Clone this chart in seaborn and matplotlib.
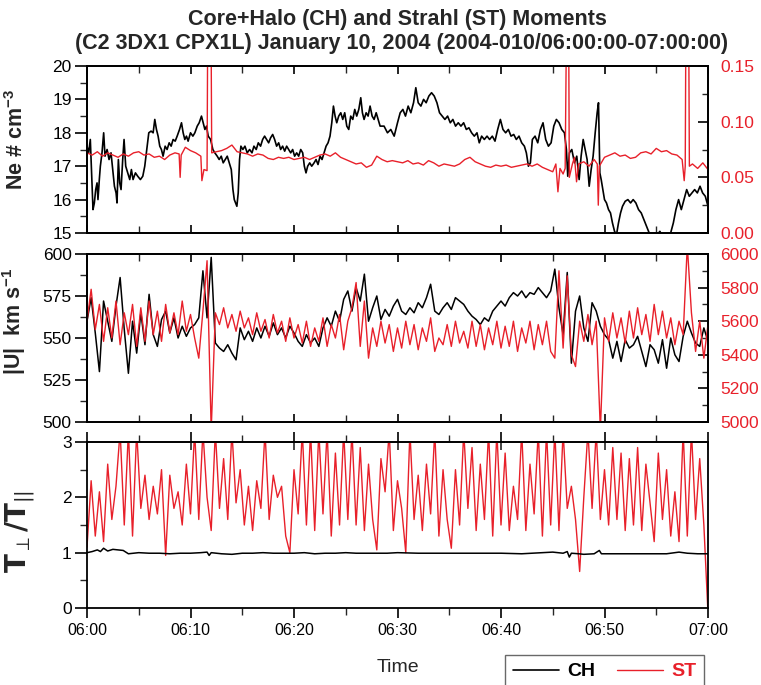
import numpy as np
import pandas as pd
import matplotlib
matplotlib.use("Agg")
import matplotlib.pyplot as plt
from matplotlib.ticker import MultipleLocator, FixedLocator, FixedFormatter, FormatStrFormatter
from matplotlib.lines import Line2D
import seaborn as sns

# ---------------- data (minutes after 06:00) ----------------
ne_ch_t = [0.0,0.16,0.32,0.48,0.58,0.71,0.84,0.97,1.06,1.19,1.29,1.45,1.61,1.74,1.94,2.13,2.32,2.52,2.65,2.81,2.90,3.03,3.16,3.29,3.45,3.58,3.74,3.94,4.13,4.29,4.45,4.68,4.90,5.16,5.39,5.58,5.81,5.97,6.19,6.39,6.55,6.71,6.87,7.03,7.19,7.35,7.55,7.74,7.94,8.13,8.32,8.52,8.71,8.94,9.13,9.29,9.45,9.61,9.77,10.0,10.23,10.42,10.65,10.84,11.06,11.23,11.39,11.55,11.71,11.94,12.16,12.35,12.58,12.77,12.97,13.16,13.35,13.55,13.74,13.94,14.1,14.23,14.35,14.48,14.61,14.74,14.87,15.06,15.26,15.48,15.71,15.94,16.13,16.35,16.55,16.77,16.97,17.16,17.35,17.55,17.74,17.94,18.13,18.32,18.52,18.71,18.9,19.1,19.29,19.48,19.68,19.87,20.06,20.26,20.45,20.65,20.84,21.0,21.16,21.32,21.52,21.71,21.94,22.13,22.32,22.52,22.71,22.9,23.1,23.29,23.48,23.65,23.81,23.97,24.13,24.32,24.52,24.71,24.9,25.1,25.29,25.48,25.68,25.87,26.06,26.26,26.45,26.61,26.77,26.97,27.16,27.35,27.55,27.74,27.94,28.13,28.32,28.7,29.03,29.35,29.68,30.0,30.26,30.52,30.77,31.03,31.29,31.55,31.77,32.0,32.26,32.52,32.77,33.03,33.29,33.55,33.81,34.06,34.32,34.58,34.84,35.1,35.35,35.61,35.87,36.13,36.39,36.65,36.9,37.16,37.42,37.68,37.9,38.13,38.39,38.65,38.9,39.16,39.42,39.68,39.94,40.19,40.45,40.71,40.97,41.23,41.48,41.74,42.0,42.26,42.45,42.65,42.84,43.03,43.29,43.55,43.81,44.06,44.32,44.58,44.84,45.1,45.35,45.61,45.87,46.13,46.32,46.45,46.61,46.84,47.1,47.32,47.55,47.74,47.94,48.13,48.32,48.52,48.71,48.9,49.1,49.29,49.42,49.55,49.68,49.84,50.0,50.19,50.39,50.58,50.77,50.97,51.16,51.35,51.55,51.74,52.0,52.26,52.52,52.77,53.03,53.29,53.55,53.81,54.06,54.32,54.58,54.84,55.1,55.35,55.61,55.87,56.13,56.39,56.65,56.9,57.16,57.42,57.68,57.94,58.19,58.45,58.71,58.97,59.23,59.48,59.74,60.0]
ne_ch = [17.6,17.4,17.8,16.5,15.7,15.9,16.3,16.5,16.0,16.6,17.0,17.4,18.0,17.3,17.5,17.2,17.4,16.8,16.4,16.2,15.9,17.2,16.5,16.3,17.2,17.8,17.0,16.8,16.6,16.9,16.6,16.8,16.7,16.6,16.7,17.0,17.6,18.0,18.05,18.0,18.4,18.1,17.9,17.6,17.5,17.3,17.6,17.5,17.7,17.6,17.8,17.75,17.9,18.1,18.3,18.0,17.8,17.9,17.75,18.0,17.9,18.0,18.2,18.3,18.5,18.3,18.1,18.2,17.9,17.8,17.5,17.4,17.3,17.2,17.3,17.1,17.2,17.3,17.1,16.9,16.3,16.0,15.9,15.8,16.2,17.2,17.6,17.5,17.6,17.4,17.5,17.4,17.6,17.5,17.7,17.6,17.8,17.9,17.8,17.7,17.85,17.95,17.8,17.6,17.7,17.5,17.6,17.45,17.6,17.5,17.4,17.5,17.3,17.4,17.3,17.5,17.4,17.0,16.8,17.0,17.1,17.0,17.1,17.2,17.05,17.3,17.2,17.4,17.6,17.7,17.9,18.3,18.8,18.5,18.3,18.5,18.6,18.4,18.6,18.2,18.1,18.5,18.4,18.7,18.5,18.7,19.05,18.6,18.4,18.6,18.5,18.8,18.5,18.4,18.6,18.4,18.2,18.2,18.0,18.1,17.9,18.3,18.6,18.7,18.5,18.8,18.6,18.9,19.35,18.9,18.8,19.0,18.9,19.1,19.2,19.1,18.9,18.6,18.5,18.4,18.5,18.3,18.4,18.2,18.3,18.2,18.3,18.1,18.15,18.0,17.9,18.0,17.7,17.9,17.8,17.9,17.8,17.9,17.75,18.1,18.4,18.1,18.0,18.1,17.9,17.95,17.8,17.9,17.7,17.6,17.4,17.0,17.1,17.8,17.9,17.7,18.1,18.3,17.8,17.6,17.7,18.2,18.4,18.3,18.1,18.0,17.5,16.7,17.4,17.5,17.1,17.3,16.6,17.3,17.8,17.5,17.2,16.4,16.9,17.3,18.0,18.6,18.9,16.8,16.6,16.3,16.0,15.9,15.7,15.6,15.3,15.05,14.95,15.3,15.6,15.8,15.95,16.0,15.9,16.0,15.9,15.7,15.6,15.4,15.2,15.0,14.95,15.0,14.95,15.05,14.9,14.95,14.9,15.0,15.3,15.7,16.0,15.7,16.0,16.3,16.1,16.2,16.3,16.2,16.4,16.2,16.1,15.8]

ne_st_t = [0.0,0.5,1.0,1.5,2.0,2.5,3.0,3.5,4.0,4.5,5.0,5.5,6.0,6.5,7.0,7.5,8.0,8.5,8.9,9.0,9.1,9.5,10.0,10.5,11.0,11.1,11.3,11.6,11.65,12.0,12.05,12.5,13.0,13.5,14.0,14.5,15.0,15.5,16.0,16.5,17.0,17.5,18.0,18.5,19.0,19.5,20.0,20.5,21.0,21.5,22.0,22.5,23.0,23.5,24.0,24.5,25.0,25.5,26.0,26.5,27.0,27.5,28.0,28.5,29.0,29.5,30.0,30.5,31.0,31.5,32.0,32.5,33.0,33.5,34.0,34.5,35.0,35.5,36.0,36.5,37.0,37.5,38.0,38.5,39.0,39.5,40.0,40.5,41.0,41.5,42.0,42.5,43.0,43.5,44.0,44.5,45.0,45.3,45.5,45.7,46.0,46.2,46.3,46.55,46.6,46.9,47.1,47.3,47.5,48.0,48.5,49.0,49.3,49.4,49.5,50.0,50.5,51.0,51.5,52.0,52.5,53.0,53.5,54.0,54.5,55.0,55.5,56.0,56.5,57.0,57.5,57.7,57.8,57.85,58.15,58.2,58.5,59.0,59.5,60.0]
ne_st = [0.072,0.070,0.073,0.069,0.072,0.070,0.068,0.071,0.069,0.072,0.073,0.070,0.071,0.068,0.069,0.066,0.070,0.072,0.071,0.050,0.070,0.077,0.074,0.072,0.069,0.047,0.057,0.056,0.16,0.16,0.072,0.073,0.074,0.076,0.079,0.073,0.072,0.071,0.069,0.071,0.070,0.067,0.066,0.068,0.067,0.068,0.066,0.067,0.068,0.066,0.068,0.070,0.071,0.069,0.072,0.068,0.066,0.064,0.062,0.063,0.059,0.061,0.069,0.066,0.064,0.065,0.064,0.063,0.065,0.062,0.063,0.061,0.065,0.063,0.060,0.062,0.061,0.060,0.062,0.066,0.068,0.064,0.062,0.060,0.059,0.061,0.060,0.061,0.059,0.060,0.061,0.062,0.060,0.062,0.059,0.057,0.055,0.062,0.037,0.058,0.053,0.058,0.16,0.16,0.050,0.062,0.068,0.046,0.062,0.064,0.060,0.066,0.062,0.025,0.060,0.068,0.070,0.072,0.069,0.070,0.067,0.068,0.072,0.073,0.071,0.076,0.073,0.074,0.071,0.070,0.066,0.047,0.060,0.16,0.16,0.060,0.062,0.058,0.063,0.057]

grid_step = 0.4  # minutes between samples for |U| and T ratio
u_ch = [560,574,553,530,572,560,548,569,586,555,529,560,541,565,546,576,552,545,561,566,553,562,550,557,551,556,558,562,590,562,598,547,544,542,546,541,537,556,549,554,548,556,550,557,551,559,552,556,550,557,553,548,545,552,547,550,545,556,562,557,566,560,573,578,566,580,572,588,560,568,575,561,567,563,569,573,566,564,568,565,571,568,574,582,566,564,568,571,567,574,572,570,566,563,561,558,562,560,566,569,572,569,574,577,575,578,574,577,576,580,577,574,578,591,568,552,589,535,566,575,556,548,571,566,557,552,549,538,548,536,549,544,546,551,542,533,546,543,535,549,532,550,540,536,551,560,553,547,545,556,548]
u_st = [5600,5790,5550,5700,5480,5680,5500,5720,5460,5650,5520,5700,5450,5680,5480,5720,5520,5660,5480,5700,5530,5650,5520,5720,5540,5640,5500,5380,5660,5960,4950,5650,5580,5680,5560,5640,5540,5660,5560,5620,5520,5650,5540,5610,5500,5640,5530,5600,5480,5620,5500,5580,5470,5600,5450,5560,5480,5620,5450,5580,5500,5640,5430,5600,5680,5830,5450,5720,5380,5560,5450,5600,5470,5580,5420,5560,5440,5600,5460,5580,5430,5560,5480,5620,5420,5500,5460,5580,5450,5600,5470,5540,5440,5600,5450,5580,5430,5560,5460,5600,5440,5570,5450,5600,5420,5560,5470,5600,5430,5580,5460,5600,5420,5380,5900,5440,5870,5400,5330,5600,5480,5640,5460,5600,4950,5620,5480,5650,5500,5620,5470,5660,5500,5680,5520,5640,5480,5700,5520,5660,5500,5620,5460,5600,5520,6050,5650,5420,5600,5380,5580]

tr_ch_t = [0,0.5,1.0,1.3,1.6,2.0,2.5,3.0,3.5,4.0,5,6,7,8,9,10,11,11.6,11.8,12.0,13,14,15,16,17,18,19,20,21,22,23,24,25,26,27,28,29,30,32,34,36,38,40,42,44,45,46,46.4,46.6,46.8,47.5,48,49,49.5,49.7,50,52,54,56,57.2,58,59,60]
tr_ch = [1.00,1.02,1.05,1.02,1.08,1.03,1.06,1.05,1.04,0.98,1.00,0.99,0.99,0.98,0.99,0.99,1.00,1.01,0.95,1.00,0.98,0.97,0.99,0.99,1.00,0.99,0.99,0.99,1.00,0.98,0.99,0.99,1.00,0.99,0.99,0.99,0.99,1.00,0.99,0.99,0.99,0.99,0.99,0.98,1.00,1.01,0.99,1.02,0.92,0.99,0.98,0.97,0.98,1.04,0.98,0.98,0.98,0.98,0.98,1.01,0.99,0.98,0.98]
tr_st = [1.10,2.30,1.30,2.10,1.20,2.60,1.60,2.20,3.20,1.50,3.20,1.30,3.20,1.80,2.40,1.60,2.20,1.70,2.50,0.95,2.40,1.80,2.10,1.50,2.60,1.70,3.20,1.60,3.20,2.00,1.40,3.20,1.80,2.70,1.60,3.20,1.90,2.50,1.50,2.20,1.40,2.30,1.80,3.20,1.60,2.40,2.00,2.20,1.30,1.00,2.50,1.70,3.20,1.50,3.20,1.40,3.20,1.70,3.20,1.30,2.80,1.50,3.20,1.60,3.20,1.50,2.90,1.40,2.60,1.60,1.05,2.70,2.10,3.20,1.40,2.30,1.80,1.00,3.20,1.60,2.40,1.40,2.60,1.70,3.20,1.30,2.50,1.60,1.08,2.50,1.50,3.20,1.80,2.90,1.40,2.60,1.60,3.20,1.30,3.20,1.50,2.80,1.40,2.20,1.60,3.20,1.40,2.60,1.70,3.20,1.30,3.20,1.50,3.20,1.40,3.20,1.80,2.20,1.60,0.66,2.00,3.20,1.80,3.20,1.60,2.50,1.50,2.90,1.60,2.80,1.40,2.70,1.50,2.90,1.40,2.60,1.90,1.20,2.80,1.60,2.50,1.30,2.10,1.20,3.20,1.30,3.20,1.60,2.70,1.50,-0.10]

xtick_minutes = [0, 10, 20, 30, 40, 50, 60]
xtick_labels = ["06:00", "06:10", "06:20", "06:30", "06:40", "06:50", "07:00"]

title_lines = ["Core+Halo (CH) and Strahl (ST) Moments",
               "(C2 3DX1 CPX1L) January 10, 2004 (2004-010/06:00:00-07:00:00)"]

# ---------------- styling ----------------
sns.set_theme(style="ticks")
plt.rcParams["font.family"] = ["Liberation Sans", "DejaVu Sans"]
plt.rcParams["mathtext.fontset"] = "custom"
plt.rcParams["mathtext.rm"] = "Liberation Sans"
plt.rcParams["mathtext.bf"] = "Liberation Sans:bold"
plt.rcParams["mathtext.it"] = "Liberation Sans:italic"
plt.rcParams["axes.linewidth"] = 1.3

BLACK = "#000000"
RED = "#e8202a"
YTICK = 12.5

t_grid = np.arange(len(u_ch)) * grid_step

fig = plt.figure(figsize=(7.61, 6.85), dpi=100)
L, R = 87 / 761, 708 / 761
W = R - L
def rect(top_px, bot_px):
    return [L, 1 - bot_px / 685, W, (bot_px - top_px) / 685]

ax1 = fig.add_axes(rect(66, 233))
ax2 = fig.add_axes(rect(254, 422))
ax3 = fig.add_axes(rect(442, 608))
ax1b = ax1.twinx()
ax2b = ax2.twinx()

sns.lineplot(x=ne_ch_t, y=ne_ch, ax=ax1, color=BLACK, lw=1.2, estimator=None, sort=False)
sns.lineplot(x=ne_st_t, y=ne_st, ax=ax1b, color=RED, lw=1.0, estimator=None, sort=False)
sns.lineplot(x=t_grid, y=u_ch, ax=ax2, color=BLACK, lw=1.1, estimator=None, sort=False)
sns.lineplot(x=t_grid, y=u_st, ax=ax2b, color=RED, lw=1.0, estimator=None, sort=False)
sns.lineplot(x=t_grid, y=tr_st, ax=ax3, color=RED, lw=1.0, estimator=None, sort=False)
sns.lineplot(x=tr_ch_t, y=tr_ch, ax=ax3, color=BLACK, lw=1.1, estimator=None, sort=False)

for ax in (ax1, ax2, ax3, ax1b, ax2b):
    ax.set_xlim(0, 60)
    ax.set_xlabel("")
    ax.set_ylabel("")

ax1.set_ylim(15, 20); ax1b.set_ylim(0, 0.15)
ax2.set_ylim(500, 600); ax2b.set_ylim(5000, 6000)
ax3.set_ylim(0, 3)

ax1.yaxis.set_major_locator(MultipleLocator(1)); ax1.yaxis.set_minor_locator(MultipleLocator(0.5))
ax1b.yaxis.set_major_locator(MultipleLocator(0.05)); ax1b.yaxis.set_minor_locator(MultipleLocator(0.025))
ax1b.yaxis.set_major_formatter(FormatStrFormatter("%.2f"))
ax2.yaxis.set_major_locator(MultipleLocator(25)); ax2.yaxis.set_minor_locator(MultipleLocator(12.5))
ax2b.yaxis.set_major_locator(MultipleLocator(200)); ax2b.yaxis.set_minor_locator(MultipleLocator(100))
ax3.yaxis.set_major_locator(MultipleLocator(1)); ax3.yaxis.set_minor_locator(MultipleLocator(0.5))

for ax in (ax1, ax2, ax3):
    ax.xaxis.set_major_locator(FixedLocator(xtick_minutes))
    ax.xaxis.set_minor_locator(MultipleLocator(5))
    ax.tick_params(axis="x", which="major", direction="in", length=6, width=1.2,
                   top=True, bottom=True, labelsize=11.5, colors=BLACK)
    ax.tick_params(axis="x", which="minor", direction="in", length=5, width=1.0,
                   top=True, bottom=True)
    ax.tick_params(axis="y", which="major", direction="out", length=9, width=1.2,
                   left=True, right=False, labelsize=YTICK, colors=BLACK, pad=2)
    ax.tick_params(axis="y", which="minor", direction="out", length=5, width=1.0,
                   left=True, right=False)
    for s in ax.spines.values():
        s.set_color(BLACK); s.set_linewidth(1.3)

for ax in (ax1, ax2):
    ax.tick_params(axis="x", labelbottom=False)
for axb in (ax1b, ax2b):
    axb.tick_params(axis="y", which="major", direction="in", length=7, width=1.2,
                    labelsize=YTICK, labelcolor=RED, colors=BLACK, pad=9)
    axb.tick_params(axis="y", which="minor", direction="in", length=4, width=1.0)
    for s in axb.spines.values():
        s.set_color(BLACK); s.set_linewidth(1.3)

# panel 3 x-ticks point outward at the bottom
ax3.tick_params(axis="x", which="major", bottom=True, direction="out", length=7, labelsize=11.5, pad=4)
ax3.tick_params(axis="x", which="minor", bottom=True, direction="out", length=5)
ax3.xaxis.set_major_formatter(FixedFormatter(xtick_labels))
ax3.secondary_xaxis("top").tick_params(axis="x", which="both", direction="in", length=6,
                                       width=1.2, labelsize=0, labeltop=False)

ax1.set_ylabel(r"Ne # cm$^{\mathbf{-3}}$", fontsize=15.5, fontweight="bold")
ax2.set_ylabel(r"|U|  km s$^{\mathbf{-1}}$", fontsize=15.5, fontweight="bold")
ax3.set_ylabel(r"$\mathbf{T}_{\perp}\mathbf{/T}_{||}$", fontsize=20,
               math_fontfamily="dejavusans")
ax1.yaxis.set_label_coords(-0.095, 0.56)
ax2.yaxis.set_label_coords(-0.095, 0.60)
ax3.yaxis.set_label_coords(-0.080, 0.46)

fig.text((L + R) / 2, 1 - 19 / 685, title_lines[0], ha="center", va="center",
         fontsize=15.5, fontweight="bold")
fig.text((L + R) / 2 + 4 / 761, 1 - 43 / 685, title_lines[1], ha="center", va="center",
         fontsize=15.5, fontweight="bold")
fig.text(398 / 761, 1 - 668 / 685, "Time", ha="center", va="center", fontsize=14)

handles = [Line2D([], [], color=BLACK, lw=1.2), Line2D([], [], color=RED, lw=1.0)]
leg = fig.legend(handles, ["CH", "ST"], ncol=2, loc="upper left",
                 bbox_to_anchor=(505 / 761, 1 - 655 / 685), borderaxespad=0.0,
                 frameon=True, fancybox=False,
                 edgecolor="#444444", prop={"weight": "bold", "size": 14},
                 handlelength=2.4, columnspacing=1.1, handletextpad=0.4, borderpad=0.4)
leg.get_frame().set_linewidth(1.0)
for txt, c in zip(leg.get_texts(), [BLACK, RED]):
    txt.set_color(c)

fig.savefig("out.png", dpi=100)
